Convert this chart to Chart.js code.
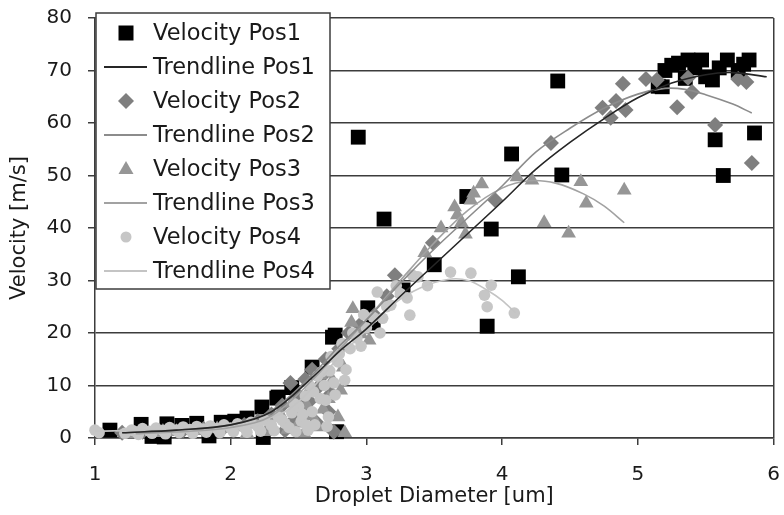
<!DOCTYPE html>
<html>
<head>
<meta charset="utf-8">
<script src="https://cdn.jsdelivr.net/npm/chart.js@4.4.1/dist/chart.umd.min.js"></script>
<style>
  html, body { margin: 0; padding: 0; background: #fff; }
</style>
</head>
<body>
<canvas id="chart" width="784" height="515"></canvas>
<script>
(function () {
  "use strict";

  // [diameter um, velocity m/s]
  var pos1Points = [
    [1.11, 1.5], [1.34, 2.6], [1.42, 0.3], [1.51, 0.2], [1.53, 2.7], [1.64, 2.4],
    [1.75, 2.8], [1.84, 0.4], [1.93, 3.0], [2.03, 3.2], [2.12, 3.8], [2.23, 5.9],
    [2.24, 0.1], [2.34, 7.6], [2.35, 7.8], [2.45, 9.6], [2.6, 13.5], [2.75, 19.2],
    [2.78, 1.2], [2.77, 19.6], [3.01, 24.8], [3.05, 21.9], [3.27, 28.2], [2.94, 57.3],
    [3.13, 41.7], [3.5, 33.0], [3.74, 46.0], [3.89, 21.3], [3.92, 39.8], [4.07, 54.1],
    [4.12, 30.7], [4.41, 68.0], [4.44, 50.1], [5.15, 67.0], [5.18, 66.9], [5.2, 70.0],
    [5.25, 71.0], [5.3, 71.4], [5.35, 68.5], [5.37, 72.0], [5.42, 70.5], [5.47, 72.0],
    [5.5, 68.8], [5.55, 68.2], [5.6, 70.5], [5.66, 72.0], [5.74, 70.0], [5.78, 71.2],
    [5.82, 72.0], [5.57, 56.8], [5.86, 58.1], [5.63, 50.0]
  ];

  var pos2Points = [
    [1.2, 1.0], [1.35, 1.2], [1.5, 1.3], [1.65, 1.5], [1.8, 1.7], [1.95, 2.0],
    [2.1, 2.5], [2.2, 3.2], [2.3, 4.5], [2.38, 6.2], [2.44, 10.5], [2.5, 8.0],
    [2.55, 11.2], [2.6, 13.0], [2.63, 3.0], [2.65, 9.8], [2.7, 15.0], [2.72, 5.0],
    [2.76, 1.2], [2.8, 17.0], [2.87, 20.0], [2.95, 21.5], [3.06, 23.4], [3.15, 27.0],
    [3.21, 31.0], [3.49, 37.2], [3.95, 45.3], [4.36, 56.2], [4.74, 62.9], [4.8, 61.0],
    [4.84, 64.2], [4.89, 67.5], [4.91, 62.5], [5.06, 68.4], [5.14, 68.2], [5.29, 63.0],
    [5.37, 68.6], [5.4, 65.9], [5.57, 59.6], [5.74, 68.4], [5.8, 67.8], [5.84, 52.4],
    [2.4, 1.5], [2.47, 3.5], [2.52, 5.5], [2.58, 7.0], [2.68, 12.0], [2.74, 8.5]
  ];

  var pos3Points = [
    [1.3, 0.8], [1.45, 1.0], [1.6, 1.2], [1.75, 1.4], [1.9, 1.7], [2.05, 2.1],
    [2.18, 2.6], [2.28, 3.4], [2.36, 4.8], [2.45, 6.6], [2.5, 2.8], [2.56, 6.3],
    [2.58, 9.2], [2.64, 2.1], [2.66, 12.0], [2.7, 12.4], [2.72, 7.5], [2.77, 15.5],
    [2.81, 9.1], [2.84, 1.0], [2.89, 22.0], [2.9, 24.6], [2.96, 19.8], [3.02, 18.6],
    [3.43, 35.3], [3.55, 40.0], [3.65, 44.0], [3.67, 42.5], [3.7, 41.0], [3.73, 38.8],
    [3.77, 45.3], [3.79, 46.6], [3.85, 48.4], [4.11, 49.7], [4.22, 49.1], [4.31, 41.0],
    [4.49, 39.0], [4.58, 48.8], [4.62, 44.7], [4.9, 47.2],
    [2.12, 0.8], [2.26, 1.2], [2.42, 1.6], [2.54, 0.9], [2.6, 4.2], [2.68, 5.5],
    [2.75, 11.0], [2.79, 4.0], [2.83, 13.5]
  ];

  var pos4Points = [
    [1.0, 1.5], [1.03, 1.0], [1.27, 1.5], [1.3, 1.2], [1.35, 1.8], [1.4, 1.3],
    [1.45, 1.9], [1.5, 1.4], [1.55, 2.0], [1.6, 1.5], [1.65, 2.1], [1.7, 1.6],
    [1.75, 2.2], [1.8, 1.7], [1.85, 2.3], [1.9, 1.8], [1.95, 2.5], [2.0, 1.9],
    [2.05, 2.7], [2.1, 2.0], [2.15, 3.0], [2.2, 2.2], [2.25, 3.4], [2.3, 2.4],
    [2.35, 4.0], [2.4, 2.8], [2.45, 4.8], [2.48, 1.2], [2.5, 6.0], [2.52, 3.2],
    [2.55, 8.0], [2.57, 1.5], [2.58, 10.0], [2.6, 5.0], [2.62, 2.5], [2.64, 11.8],
    [2.66, 7.5], [2.67, 12.6], [2.7, 7.2], [2.72, 4.0], [2.74, 15.5], [2.76, 10.5],
    [2.79, 14.5], [2.82, 18.0], [2.85, 13.0], [2.9, 20.0], [2.96, 17.5], [3.0, 21.0],
    [3.05, 23.0], [3.08, 27.8], [3.1, 20.0], [3.15, 25.0], [3.18, 25.3], [3.25, 27.5],
    [3.3, 26.7], [3.32, 23.4], [3.34, 31.0], [3.38, 30.7], [3.45, 29.0], [3.62, 31.6],
    [3.77, 31.4], [3.87, 27.2], [3.89, 25.0], [3.92, 29.1], [4.09, 23.8],
    [1.22, 0.9], [1.32, 0.7], [1.42, 0.9], [1.52, 0.8], [1.62, 1.0], [1.72, 0.9],
    [1.82, 1.1], [1.92, 1.0], [2.02, 1.2], [2.12, 1.1], [2.22, 1.3], [2.32, 1.4],
    [2.38, 3.4], [2.43, 2.0], [2.47, 6.5], [2.53, 4.5], [2.56, 2.4], [2.61, 8.8],
    [2.69, 10.0], [2.71, 2.2], [2.73, 12.8], [2.77, 8.2], [2.8, 16.0], [2.84, 11.0],
    [2.88, 17.0], [2.93, 19.0], [2.98, 23.5], [3.12, 22.8], [3.22, 29.0]
  ];

  // trendlines
  var trend1Points = [
    [1.2, 1.0], [1.6, 1.5], [2.0, 2.5], [2.3, 5.0], [2.6, 11.5], [2.8, 16.5],
    [3.0, 20.8], [3.25, 27.0], [3.5, 33.0], [3.75, 39.0], [4.0, 45.0], [4.25, 51.2],
    [4.5, 56.3], [4.75, 60.8], [5.0, 64.8], [5.25, 67.6], [5.5, 69.2], [5.7, 69.6],
    [5.95, 68.8]
  ];
  var trend2Points = [
    [1.2, 1.0], [1.6, 1.5], [2.0, 2.5], [2.3, 5.2], [2.6, 12.0], [2.8, 17.5],
    [3.0, 22.5], [3.25, 29.5], [3.5, 36.0], [3.75, 42.0], [4.0, 48.0], [4.25, 54.5],
    [4.5, 59.0], [4.75, 62.8], [5.0, 65.5], [5.2, 66.6], [5.35, 66.4], [5.5, 65.4],
    [5.7, 63.6], [5.84, 61.9]
  ];
  var trend3Points = [
    [1.3, 0.8], [1.7, 1.3], [2.0, 2.0], [2.3, 4.2], [2.6, 11.0], [2.8, 16.8],
    [3.0, 22.5], [3.25, 30.0], [3.5, 37.2], [3.75, 43.4], [4.0, 47.6], [4.2, 49.0],
    [4.4, 48.5], [4.6, 46.5], [4.75, 44.2], [4.9, 41.0]
  ];
  var trend4Points = [
    [1.0, 1.3], [1.4, 1.5], [1.8, 1.9], [2.1, 2.6], [2.4, 5.0], [2.6, 9.5],
    [2.8, 15.5], [3.0, 20.5], [3.2, 25.5], [3.4, 28.6], [3.6, 30.2], [3.75, 30.0],
    [3.9, 28.0], [4.0, 26.2], [4.1, 23.8]
  ];

  var xTicks = [1, 2, 3, 4, 5, 6];
  var yTicks = [0, 10, 20, 30, 40, 50, 60, 70, 80];

  var AXIS = "#3c3c3c";
  var TEXT = "#1a1a1a";
  var FONT = "'DejaVu Sans', 'Liberation Sans', Arial, sans-serif";

  function toXY(list) {
    return list.map(function (p) {
      return { x: p[0], y: p[1] };
    });
  }

  function velocity(label, pts, color, style, radius, order) {
    return {
      label: label,
      data: toXY(pts),
      pointStyle: style,
      pointRadius: radius,
      pointBackgroundColor: color,
      pointBorderColor: color,
      pointBorderWidth: 0,
      showLine: false,
      clip: false,
      order: order,
    };
  }

  function trendline(label, pts, color) {
    return {
      label: label,
      data: toXY(pts),
      showLine: true,
      borderColor: color,
      borderWidth: 1.6,
      pointRadius: 0,
      tension: 0.35,
      order: 0,
    };
  }

  var series = [
    { label: "Velocity Pos1", kind: "rect", color: "#000000" },
    { label: "Trendline Pos1", kind: "line", color: "#262626" },
    { label: "Velocity Pos2", kind: "rectRot", color: "#7f7f7f" },
    { label: "Trendline Pos2", kind: "line", color: "#8c8c8c" },
    { label: "Velocity Pos3", kind: "triangle", color: "#969696" },
    { label: "Trendline Pos3", kind: "line", color: "#a2a2a2" },
    { label: "Velocity Pos4", kind: "circle", color: "#c6c6c6" },
    { label: "Trendline Pos4", kind: "line", color: "#c4c4c4" },
  ];

  var datasets = [
    velocity(series[0].label, pos1Points, series[0].color, "rect", 10.5, 4),
    trendline(series[1].label, trend1Points, series[1].color),
    velocity(series[2].label, pos2Points, series[2].color, "rectRot", 8, 3),
    trendline(series[3].label, trend2Points, series[3].color),
    velocity(series[4].label, pos3Points, series[4].color, "triangle", 8.5, 2),
    trendline(series[5].label, trend3Points, series[5].color),
    velocity(series[6].label, pos4Points, series[6].color, "circle", 5.8, 1),
    trendline(series[7].label, trend4Points, series[7].color),
  ];

  // --- boxed legend sitting over the top-left of the plot ---

  function drawMarker(ctx, kind, x, y) {
    ctx.beginPath();
    if (kind === "rect") {
      ctx.rect(x - 7.5, y - 7.5, 15, 15);
    } else if (kind === "rectRot") {
      ctx.moveTo(x, y - 8);
      ctx.lineTo(x + 8, y);
      ctx.lineTo(x, y + 8);
      ctx.lineTo(x - 8, y);
      ctx.closePath();
    } else if (kind === "triangle") {
      ctx.moveTo(x, y - 8);
      ctx.lineTo(x + 7.5, y + 5);
      ctx.lineTo(x - 7.5, y + 5);
      ctx.closePath();
    } else {
      ctx.arc(x, y, 5.5, 0, Math.PI * 2);
    }
    ctx.fill();
  }

  var boxLegend = {
    id: "boxLegend",
    afterDraw: function (chart) {
      var ctx = chart.ctx;
      var left = 96, top = 13, right = 330, bottom = 289;
      ctx.save();
      ctx.fillStyle = "#ffffff";
      ctx.fillRect(left, top, right - left, bottom - top);
      ctx.strokeStyle = AXIS;
      ctx.lineWidth = 1.5;
      ctx.strokeRect(left, top, right - left, bottom - top);

      ctx.font = "22.5px " + FONT;
      ctx.textBaseline = "middle";
      ctx.textAlign = "left";
      for (var i = 0; i < series.length; i++) {
        var s = series[i];
        var y = 33 + i * 34;
        if (s.kind === "line") {
          ctx.strokeStyle = s.color;
          ctx.lineWidth = 2;
          ctx.beginPath();
          ctx.moveTo(104, y);
          ctx.lineTo(147, y);
          ctx.stroke();
        } else {
          ctx.fillStyle = s.color;
          drawMarker(ctx, s.kind, 126, y);
        }
        ctx.fillStyle = TEXT;
        ctx.fillText(s.label, 153, y + 1);
      }
      ctx.restore();
    },
  };

  new Chart(document.getElementById("chart"), {
    type: "scatter",
    data: { datasets: datasets },
    options: {
      responsive: false,
      animation: false,
      layout: { padding: { top: 18, right: 4, bottom: 0, left: 0 } },
      plugins: {
        legend: { display: false },
        tooltip: { enabled: false },
      },
      scales: {
        x: {
          type: "linear",
          min: xTicks[0],
          max: xTicks[xTicks.length - 1],
          afterBuildTicks: function (scale) {
            scale.ticks = xTicks.map(function (v) {
              return { value: v };
            });
          },
          ticks: {
            color: TEXT,
            font: { family: FONT, size: 20 },
            padding: 18,
            maxRotation: 0,
          },
          grid: {
            color: function (c) {
              return c.tick && c.tick.value === 6 ? AXIS : "rgba(0,0,0,0)";
            },
            tickColor: AXIS,
            tickLength: 7,
            lineWidth: 1.5,
          },
          border: { color: AXIS, width: 1.5 },
          title: {
            display: true,
            text: "Droplet Diameter [um]",
            color: TEXT,
            font: { family: FONT, size: 21 },
            padding: { top: 0, bottom: 6 },
          },
          afterFit: function (scale) {
            scale.height = 77;
            scale.paddingLeft = 0;
            scale.paddingRight = 0;
          },
        },
        y: {
          type: "linear",
          min: yTicks[0],
          max: yTicks[yTicks.length - 1],
          afterBuildTicks: function (scale) {
            scale.ticks = yTicks.map(function (v) {
              return { value: v };
            });
          },
          ticks: {
            color: TEXT,
            font: { family: FONT, size: 20 },
            padding: 16,
          },
          grid: {
            color: AXIS,
            tickColor: AXIS,
            tickLength: 7,
            lineWidth: 1.5,
          },
          border: { color: AXIS, width: 1.5 },
          title: {
            display: true,
            text: "Velocity [m/s]",
            color: TEXT,
            font: { family: FONT, size: 21 },
            padding: { top: 7, bottom: 0 },
          },
          afterFit: function (scale) {
            scale.width = 95;
            scale.paddingTop = 0;
            scale.paddingBottom = 0;
          },
        },
      },
    },
    plugins: [boxLegend],
  });
})();
</script>
</body>
</html>
